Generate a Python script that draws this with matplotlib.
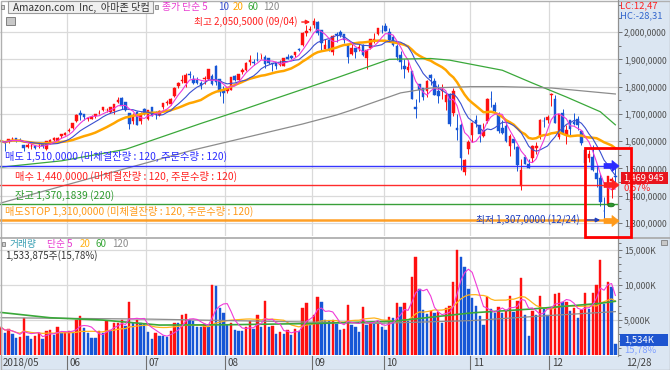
import matplotlib
matplotlib.use("Agg")
import matplotlib.pyplot as plt
from matplotlib.patches import Rectangle, Polygon, Circle, FancyArrowPatch
from matplotlib.lines import Line2D
import matplotlib.transforms as mtrans
import numpy as np
import pandas as pd

plt.rcParams['font.family'] = ['Noto Sans CJK KR', 'DejaVu Sans']

W, H = 670, 370

# daily candles, 2018-05-07 .. 2018-12-28 (last one intraday)
opens = [
    # May
    1600.0, 1595.0, 1600.0, 1608.5, 1610.2, 1604.0, 1587.8, 1577.5, 1580.6, 1581.3, 1585.0, 1589.9, 1571.0, 1598.0, 1603.0, 1600.7, 1618.1, 1623.0,
    # Jun
    1637.0, 1648.9, 1672.9, 1704.5, 1698.6, 1681.1, 1681.5, 1693.0, 1702.8, 1713.5, 1714.0, 1706.3, 1709.0, 1742.5, 1760.0, 1742.6, 1702.5, 1672.4, 1708.1, 1672.5, 1717.0,
    # Jul
    1682.7, 1723.9, 1705.4, 1696.0, 1724.1, 1738.5, 1737.5, 1764.5, 1803.9, 1821.9, 1811.6, 1848.0, 1829.5, 1825.0, 1812.2, 1829.0, 1829.2, 1839.0, 1876.1, 1827.3, 1786.5,
    # Aug
    1784.0, 1788.2, 1837.7, 1825.8, 1854.5, 1861.0, 1888.5, 1888.5, 1898.5, 1919.4, 1909.6, 1903.9, 1885.8, 1890.6, 1880.0, 1876.6, 1907.2, 1910.5, 1915.0, 1937.7, 1953.5, 1997.4, 2007.0,
    # Sep
    2026.5, 2038.1, 2006.5, 1938.7, 1971.0, 1928.3, 1994.0, 2000.0, 1992.9, 1954.7, 1918.7, 1940.5, 1938.8, 1954.2, 1903.8, 1942.9, 1968.5, 1993.2, 2004.4,
    # Oct
    2022.0, 2000.0, 1981.7, 1949.0, 1917.0, 1874.0, 1860.0, 1857.9, 1724.0, 1808.0, 1795.0, 1783.5, 1842.8, 1821.5, 1785.2, 1784.0, 1742.2, 1773.7, 1703.3, 1649.6, 1660.0, 1486.2, 1570.0,
    # Nov
    1623.5, 1678.6, 1657.6, 1618.4, 1673.0, 1755.0, 1732.5, 1698.0, 1649.3, 1656.3, 1581.0, 1608.0, 1577.0, 1437.5, 1543.0, 1517.0, 1539.0, 1575.0, 1613.9, 1675.0, 1679.5,
    # Dec
    1769.5, 1756.0, 1614.9, 1705.1, 1623.8, 1678.0, 1669.0, 1680.0, 1638.0, 1566.0, 1540.0, 1543.0, 1484.0, 1465.0, 1346.0, 1368.9, 1454.2, 1473.4,
]
highs = [
    1606.4, 1596.0, 1608.0, 1615.5, 1611.1, 1611.2, 1587.8, 1594.4, 1594.0, 1583.6, 1592.0, 1589.9, 1601.9, 1608.2, 1614.1, 1614.1, 1626.3, 1635.0,
    1646.7, 1665.7, 1699.0, 1714.5, 1699.9, 1689.4, 1695.0, 1699.5, 1713.8, 1724.8, 1720.9, 1726.7, 1736.1, 1763.1, 1763.1, 1743.0, 1705.0, 1701.6, 1711.1, 1705.5, 1723.4,
    1713.9, 1725.0, 1710.7, 1715.3, 1739.7, 1750.0, 1756.5, 1798.0, 1815.3, 1841.9, 1851.7, 1858.9, 1841.0, 1834.8, 1819.0, 1840.0, 1863.8, 1844.7, 1880.1, 1829.5, 1801.8,
    1798.4, 1836.6, 1841.0, 1847.8, 1869.7, 1891.5, 1914.6, 1899.5, 1925.0, 1921.0, 1916.2, 1905.0, 1888.0, 1891.8, 1897.8, 1905.8, 1919.5, 1916.0, 1927.7, 1941.8, 1998.7, 2025.6, 2022.4,
    2050.5, 2040.4, 2007.5, 1975.2, 1973.0, 1988.9, 2000.0, 2008.8, 1993.7, 1956.8, 1958.2, 1940.8, 1955.0, 1957.3, 1936.5, 1975.9, 1995.3, 2016.2, 2026.5,
    2033.2, 2013.4, 1989.7, 1956.0, 1929.1, 1902.0, 1896.7, 1858.6, 1755.4, 1808.9, 1795.1, 1823.9, 1845.0, 1830.2, 1809.1, 1809.5, 1776.3, 1777.7, 1794.8, 1698.5, 1665.7, 1534.2, 1605.6,
    1670.5, 1697.4, 1658.1, 1665.0, 1759.2, 1784.0, 1743.9, 1708.6, 1677.1, 1673.0, 1624.8, 1614.5, 1581.2, 1534.8, 1550.0, 1536.2, 1584.8, 1597.7, 1681.4, 1690.0, 1696.0,
    1778.3, 1770.3, 1701.1, 1718.9, 1658.0, 1679.5, 1705.0, 1692.1, 1642.6, 1576.1, 1567.6, 1584.5, 1509.5, 1480.0, 1396.0, 1473.2, 1469.0, 1513.5,
]
lows = [
    1592.0, 1565.0, 1592.0, 1603.4, 1597.9, 1600.0, 1565.2, 1576.7, 1573.0, 1572.1, 1575.0, 1575.3, 1566.3, 1588.4, 1600.5, 1595.6, 1612.9, 1621.4,
    1635.1, 1645.5, 1670.1, 1679.5, 1676.1, 1673.0, 1680.6, 1686.5, 1700.1, 1708.9, 1708.5, 1702.2, 1700.2, 1741.0, 1717.6, 1711.9, 1646.3, 1663.3, 1660.0, 1661.2, 1694.3,
    1678.1, 1691.0, 1682.2, 1693.2, 1716.2, 1731.0, 1734.0, 1762.2, 1795.2, 1814.5, 1797.4, 1831.3, 1811.3, 1810.1, 1790.2, 1809.4, 1822.6, 1804.5, 1806.5, 1766.0, 1739.3,
    1776.0, 1786.0, 1821.5, 1818.3, 1846.3, 1856.0, 1877.5, 1878.2, 1893.7, 1900.1, 1869.8, 1883.6, 1855.6, 1866.1, 1874.4, 1876.6, 1900.8, 1902.5, 1909.3, 1928.8, 1948.9, 1986.9, 2004.7,
    2013.0, 1989.9, 1935.2, 1937.3, 1931.5, 1917.0, 1962.4, 1983.2, 1959.1, 1887.4, 1915.4, 1904.9, 1932.3, 1910.5, 1865.0, 1938.9, 1961.5, 1988.6, 1996.5,
    2003.6, 1965.8, 1949.8, 1896.6, 1862.8, 1830.7, 1852.3, 1754.4, 1685.1, 1742.5, 1752.0, 1761.6, 1807.0, 1767.9, 1740.0, 1756.0, 1714.0, 1656.6, 1692.0, 1603.0, 1495.0, 1476.4, 1551.6,
    1598.4, 1651.8, 1596.4, 1614.6, 1666.3, 1725.1, 1701.9, 1630.0, 1625.3, 1597.1, 1546.5, 1573.1, 1490.0, 1420.0, 1515.0, 1501.8, 1524.2, 1552.5, 1606.7, 1652.3, 1666.5,
    1730.0, 1665.0, 1609.9, 1625.5, 1590.9, 1619.6, 1660.3, 1641.5, 1585.0, 1505.0, 1523.0, 1489.1, 1432.7, 1364.0, 1307.0, 1363.0, 1390.3, 1449.0,
]
closes = [
    1600.1, 1592.4, 1608.0, 1609.1, 1602.9, 1601.5, 1576.1, 1587.3, 1581.8, 1574.4, 1585.5, 1581.4, 1601.9, 1603.1, 1610.2, 1612.9, 1624.9, 1629.6,
    1641.5, 1665.3, 1696.4, 1695.8, 1689.3, 1684.0, 1689.1, 1698.8, 1704.9, 1723.9, 1716.0, 1723.8, 1734.8, 1750.1, 1730.2, 1715.7, 1663.2, 1691.1, 1660.5, 1701.5, 1699.8,
    1713.8, 1694.0, 1699.7, 1710.6, 1739.0, 1743.1, 1755.0, 1796.6, 1813.0, 1822.5, 1843.9, 1842.9, 1813.0, 1813.7, 1802.0, 1829.2, 1863.6, 1808.0, 1817.3, 1779.2, 1777.4,
    1797.2, 1834.3, 1823.3, 1847.8, 1862.5, 1886.5, 1898.5, 1886.3, 1896.2, 1919.7, 1882.6, 1886.5, 1882.2, 1876.7, 1883.4, 1904.9, 1902.9, 1905.4, 1927.7, 1932.8, 1998.1, 2002.4, 2012.7,
    2039.5, 1994.8, 1958.3, 1952.1, 1939.0, 1987.2, 1990.0, 1989.9, 1970.2, 1908.0, 1941.1, 1926.4, 1944.3, 1915.0, 1934.4, 1974.6, 1974.9, 2013.0, 2003.0,
    2004.4, 1971.3, 1952.8, 1909.4, 1889.7, 1864.4, 1870.3, 1755.3, 1719.4, 1788.6, 1761.0, 1820.0, 1831.7, 1770.7, 1764.0, 1789.3, 1768.7, 1664.2, 1782.2, 1642.8, 1538.9, 1530.4, 1598.0,
    1665.5, 1665.5, 1627.8, 1642.8, 1755.5, 1754.9, 1712.4, 1636.9, 1631.2, 1599.0, 1619.4, 1593.4, 1512.3, 1495.5, 1516.7, 1502.1, 1581.3, 1581.4, 1677.8, 1673.6, 1690.2,
    1772.4, 1668.4, 1699.2, 1629.1, 1641.0, 1643.2, 1663.5, 1658.4, 1591.9, 1520.9, 1551.5, 1495.1, 1460.8, 1377.5, 1344.0, 1470.9, 1461.6, 1469.9,
]
# volume in thousands of shares
volumes = [
    3930, 3170, 3640, 2930, 2370, 2600, 5200, 2700, 2320, 2700, 3080, 2270, 3450, 3500, 2790, 3930, 3080, 3310,
    3350, 3300, 4970, 5580, 3780, 3080, 2410, 2400, 3450, 3170, 4870, 3550, 4490, 4550, 4970, 4120, 7570, 4490, 4970, 4590, 4400,
    3310, 2270, 3170, 2700, 2650, 2600, 3360, 4590, 4500, 5630, 5870, 4970, 4820, 4020, 3980, 4400, 4000, 9980, 9790, 6620, 5910,
    4260, 4500, 3550, 3450, 3400, 4000, 4870, 3740, 5630, 4020, 7710, 4020, 4100, 2980, 3260, 3000, 3600, 2900, 3740, 3360, 6620, 7380, 4490,
    5750, 8200, 7590, 4990, 4800, 5040, 4420, 3600, 3650, 7160, 4330, 4040, 3240, 6880, 4230, 4520, 4420, 4520, 4040,
    3570, 5460, 5270, 7350, 6880, 7450, 4800, 11040, 13980, 9440, 6410, 5900, 6200, 5950, 6100, 4520, 6740, 6980, 10330, 14920, 13880, 12460, 9440,
    8110, 7020, 5600, 4330, 8200, 6500, 5940, 6880, 5940, 6410, 8440, 6080, 7730, 10900, 5750, 2770, 6310, 5750, 8440, 6550, 5750,
    6880, 8680, 8820, 7500, 7590, 6310, 6640, 5270, 6410, 8820, 6500, 8770, 10000, 13550, 7260, 10380, 9630, 1534,
]

# long moving averages (candle index, value)
ma60_idx = [0, 16, 33, 53, 64, 71, 89, 103, 114, 119, 133, 141, 150, 159, 163]
ma60_val = [1505, 1528, 1570, 1665, 1715, 1748, 1832, 1900, 1903, 1897, 1860, 1813, 1762, 1708, 1660]
ma120_idx = [0, 51, 80, 89, 93, 106, 114, 125, 133, 146, 163]
ma120_val = [1374, 1568, 1663, 1696, 1714, 1777, 1795, 1800, 1800, 1795, 1773]
vma60_idx = [0, 13, 27, 42, 60, 84, 104, 125, 141, 159, 163]
vma60_val = [6050, 5300, 4970, 4260, 4300, 4490, 4800, 6000, 6550, 7350, 7640]
vma120_idx = [0, 40, 80, 100, 125, 145, 163]
vma120_val = [5300, 5100, 4700, 4500, 4900, 5600, 6170]

month_start = [0, 18, 39, 60, 83, 102, 125, 146]
month_label = ["2018/05", "06", "07", "08", "09", "10", "11", "12"]

orders = [
    (1510.0, "매도 1,510,0000 (미체결잔량 : 120, 주문수량 : 120)", "#2b2bff", 5),
    (1440.0, "매수 1,440,0000 (미체결잔량 : 120, 주문수량 : 120)", "#ff2020", 15),
    (1370.1839, "잔고 1,370,1839 (220)", "#2e9a2e", 15),
    (1310.0, "매도STOP 1,310,0000 (미체결잔량 : 120, 주문수량 : 120)", "#ff9a1a", 5),
]

RED = "#ff1010"
BLUE = "#1656d6"
AXBG = "#dbe6f2"
GRID = "#dadada"


def box(x0, y0, x1, y1):
    return [x0 / W, 1 - y1 / H, (x1 - x0) / W, (y1 - y0) / H]


def ftext(x, y, s, **kw):
    kw.setdefault("va", "center")
    kw.setdefault("fontsize", 7)
    fig.text(x / W, 1 - y / H, s, **kw)


def frect(x0, y0, x1, y1, **kw):
    fig.add_artist(Rectangle((x0 / W, 1 - y1 / H), (x1 - x0) / W, (y1 - y0) / H,
                             transform=fig.transFigure, **kw))


def fpoly(pts, **kw):
    fig.add_artist(Polygon([(px / W, 1 - py / H) for px, py in pts], closed=True,
                           transform=fig.transFigure, **kw))


def fline(xs, ys, **kw):
    fig.add_artist(Line2D([v / W for v in xs], [1 - v / H for v in ys],
                          transform=fig.transFigure, **kw))


fig = plt.figure(figsize=(W / 100, H / 100), dpi=100)
fig.patch.set_facecolor("white")

# axis areas
frect(618, 0, 670, 370, facecolor=AXBG, edgecolor="none", zorder=0)
frect(0, 356, 670, 370, facecolor=AXBG, edgecolor="none", zorder=0)

x = np.arange(len(closes))
o, hi, lo, c = (np.array(v) for v in (opens, highs, lows, closes))
cols = np.where(c >= o, RED, BLUE)

ax = fig.add_axes(box(0, 2, 618, 236))
axv = fig.add_axes(box(0, 239, 618, 355))

for a in (ax, axv):
    a.set_xlim(-0.3, 163.7)
    a.set_facecolor("white")
    a.yaxis.tick_right()
    a.tick_params(axis="y", which="both", direction="out", colors="#606060",
                  labelcolor="#505050", labelsize=6.2, pad=1.2, length=3, width=0.6)
    a.tick_params(axis="y", which="minor", length=2)
    a.tick_params(axis="x", which="both", length=0, labelbottom=False)
    for s in ("top", "left", "bottom"):
        a.spines[s].set_visible(False)
    a.spines["right"].set_color("#909090")
    for m in month_start[1:]:
        a.axvline(m - 0.5, color=GRID, lw=0.9, zorder=0)

# price panel
ax.set_ylim(1252.7, 2110)
pticks = list(range(1300, 2001, 100))
ax.set_yticks(pticks)
ax.set_yticklabels([f"{p:,},0000" for p in pticks])
ax.set_yticks(list(range(1300, 2101, 50)), minor=True)
for p in pticks:
    ax.axhline(p, color=GRID, lw=0.9, zorder=0)

ax.vlines(x, lo, hi, colors=cols, lw=0.7, zorder=3)
ax.bar(x, np.maximum(np.abs(c - o), 0.8), bottom=np.minimum(o, c), width=0.68,
       color=cols, edgecolor=cols, lw=0.3, zorder=3)

cs = pd.Series(closes)
ax.plot(x, cs.rolling(20, min_periods=1).mean(), color="#ffa500", lw=1.8, zorder=4)
ax.plot(x, cs.rolling(10, min_periods=1).mean(), color="#3a4fd0", lw=0.8, zorder=4)
ax.plot(x, cs.rolling(5, min_periods=1).mean(), color="#f03ad8", lw=0.8, zorder=4)
ax.plot(ma60_idx, ma60_val, color="#3aa83a", lw=0.9, zorder=4)
ax.plot(ma120_idx, ma120_val, color="#8c8c8c", lw=0.9, zorder=4)

for price, label, col, tx in orders:
    ax.axhline(price, color=col, lw=1.8 if "STOP" in label else 1.0, zorder=5, alpha=0.95)
    ax.text(tx / 618 * 164 - 0.3, price + 12, label, color=col,
            fontsize=7.4, va="bottom", zorder=6)

# volume panel
axv.set_ylim(0, 16500)
vticks = [5000, 10000, 15000]
axv.set_yticks(vticks)
axv.set_yticklabels([f"{v:,}K" for v in vticks])
axv.set_yticks(list(range(0, 16501, 1000)), minor=True)
for v in vticks:
    axv.axhline(v, color=GRID, lw=0.9, zorder=0)
vol = np.array(volumes)
vcols = [RED] + [RED if vol[i] > vol[i - 1] else BLUE for i in range(1, len(vol))]
axv.bar(x, vol, width=0.62, color=vcols, edgecolor=vcols, lw=0.3, zorder=3)
vs = pd.Series(volumes)
axv.plot(x, vs.rolling(20, min_periods=1).mean(), color="#ffb31a", lw=0.9, zorder=4)
axv.plot(vma120_idx, vma120_val, color="#8c8c8c", lw=0.9, zorder=4)
axv.plot(vma60_idx, vma60_val, color="#3aa83a", lw=1.2, zorder=4)
axv.plot(x, vs.rolling(5, min_periods=1).mean(), color="#f03ad8", lw=0.8, zorder=4)

# panel separator and frame
fline([0, 670], [237.5, 237.5], color="#a8a8a8", lw=1.2)
fline([618, 618], [0, 356], color="#909090", lw=0.8)
frect(0.5, 0.5, 669.5, 369.5, facecolor="none", edgecolor="#b0b0b0", lw=1)

# date axis band
bt = mtrans.blended_transform_factory(axv.transData, fig.transFigure)
for m, lab in zip(month_start, month_label):
    if m > 0:
        fig.add_artist(Line2D([m - 0.5, m - 0.5], [0, 14 / H], transform=bt, color="#707070", lw=0.8))
    fig.text(m + 0.2 if m > 0 else 0.3, 7 / H, lab, transform=bt, fontsize=7,
             color="#404040", va="center")
ftext(626, 363, "12/28", color="#404040")

# header
frect(1, 5, 4, 9, facecolor="#d0d0d0", edgecolor="#808080", lw=0.6)
frect(8, 1.5, 153, 13, facecolor="#f0f0f0", edgecolor="#9a9a9a", lw=0.8)
ftext(13, 7.5, "Amazon.com  Inc,  아마존 닷컴", color="#333333", fontsize=7.3)
frect(155, 5, 158, 9, facecolor="#d0d0d0", edgecolor="#808080", lw=0.6)
ftext(162, 7, "종가 단순 5", color="#e83ad0")
ftext(218, 7, "10", color="#3a4fd0")
ftext(233, 7, "20", color="#ffa500")
ftext(248, 7, "60", color="#3aa83a")
ftext(263, 7, "120", color="#8c8c8c")
frect(6, 17, 15, 25, facecolor="#c8c8c8", edgecolor="#707070", lw=0.6)

ftext(297, 22, "최고 2,050,5000 (09/04)", color="#ff2020", ha="right")
fig.add_artist(FancyArrowPatch(
    (299 / W, 1 - 22 / H), (313 / W, 1 - 22 / H), transform=fig.transFigure,
    arrowstyle="-|>", mutation_scale=6, color="#ff2020", lw=1))
ftext(580, 220, "최저 1,307,0000 (12/24)", color="#2040c0", ha="right")
fig.add_artist(FancyArrowPatch(
    (583 / W, 1 - 220 / H), (603 / W, 1 - 220 / H), transform=fig.transFigure,
    arrowstyle="-|>", mutation_scale=6, color="#2040c0", lw=1))

# order arrows at the right end
for yy, col in ((166, "#2b2bff"), (185, "#ff2020"), (221, "#ff9a1a")):
    fpoly([(604, yy - 2.5), (612, yy - 2.5), (612, yy - 5.5), (619, yy),
           (612, yy + 5.5), (612, yy + 2.5), (604, yy + 2.5)],
          facecolor=col, edgecolor=col, lw=0.5, zorder=10)
fig.add_artist(Circle((611 / W, 1 - 205 / H), 3.3 / W, transform=fig.transFigure,
                      facecolor="#2e9a2e", edgecolor="#1c6e1c", lw=0.6, zorder=10))

# right axis info
ftext(620, 6, "LC:12,47", color="#ff2020", fontsize=6.8)
ftext(620, 16, "HC:-28,31", color="#3366cc", fontsize=6.8)
frect(621, 172, 668, 184, facecolor="#e8141e", edgecolor="none", zorder=5)
ftext(623, 178, "1,469,945", color="white", fontsize=6.6, zorder=6)
ftext(624, 188, "0,57%", color="#ff2020", fontsize=6.8)
frect(620, 334, 668, 346, facecolor="#1e55d0", edgecolor="none", zorder=5)
ftext(624, 340, "1,534K", color="white", fontsize=6.8, zorder=6)
ftext(624, 350, "15,78%", color="#7f9fff", fontsize=6.8)
frect(661, 240, 667, 245, facecolor="#c8c8c8", edgecolor="#707070", lw=0.5)

# volume header
frect(2, 242, 5, 246, facecolor="#d0d0d0", edgecolor="#808080", lw=0.6)
ftext(10, 244, "거래량", color="#3aa0b4")
ftext(47, 244, "단순 5", color="#e83ad0")
ftext(80, 244, "20", color="#ffb31a")
ftext(95, 244, "60", color="#3aa83a")
ftext(112, 244, "120", color="#8c8c8c")
ftext(5, 256, "1,533,875주(15,78%)", color="#333333")

# highlight box
frect(585, 148, 631, 237, facecolor="none", edgecolor="#ff0000", lw=2, zorder=12)

fig.savefig("out.png", dpi=100)
